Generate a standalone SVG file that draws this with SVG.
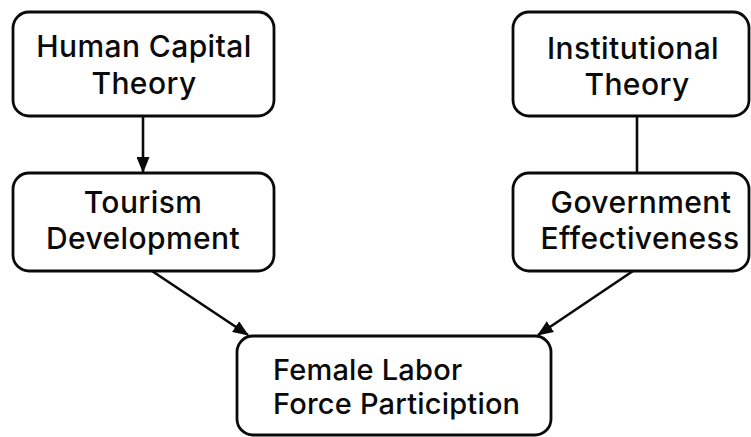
<svg xmlns="http://www.w3.org/2000/svg" width="751" height="437" viewBox="0 0 751 437">
  <defs>
    <style>
      .box { fill: #ffffff; stroke: #0a0a0a; stroke-width: 2.8; }
      .label { font-family: Inter, "Liberation Sans", Arial, sans-serif; font-size: 30px; letter-spacing: 0.4px; font-weight: 500; fill: #0a0a0a; }
      .small { font-size: 29px; letter-spacing: 0.2px; }
      .mid { text-anchor: middle; }
      .edge { stroke: #0a0a0a; stroke-width: 2.6; fill: none; }
    </style>
    <marker id="arrow" viewBox="0 0 16 13" refX="15" refY="6.5" markerWidth="16" markerHeight="13" markerUnits="userSpaceOnUse" orient="auto">
      <path d="M0,0 L16,6.5 L0,13 Z" fill="#0a0a0a"/>
    </marker>
  </defs>

  <rect width="751" height="437" fill="#ffffff"/>

  <g id="connectors">
    <line class="edge" x1="143" y1="116" x2="143" y2="172" marker-end="url(#arrow)"/>
    <line class="edge" x1="637" y1="116" x2="637" y2="173"/>
    <line class="edge" x1="152" y1="271" x2="248" y2="335" marker-end="url(#arrow)"/>
    <line class="edge" x1="633" y1="271" x2="538" y2="335" marker-end="url(#arrow)"/>
  </g>

  <g id="human-capital-theory">
    <rect class="box" x="13" y="12" width="261" height="104" rx="16"/>
    <text class="label mid" x="144" y="57">Human Capital</text>
    <text class="label mid" x="144" y="94">Theory</text>
  </g>

  <g id="tourism-development">
    <rect class="box" x="13" y="173" width="261" height="98" rx="16"/>
    <text class="label mid" x="143" y="213">Tourism</text>
    <text class="label mid" x="143" y="249">Development</text>
  </g>

  <g id="institutional-theory">
    <rect class="box" x="513" y="12" width="236" height="104" rx="16"/>
    <text class="label mid" x="633" y="59">Institutional</text>
    <text class="label mid" x="637" y="95">Theory</text>
  </g>

  <g id="government-effectiveness">
    <rect class="box" x="513" y="173" width="236" height="98" rx="16"/>
    <text class="label mid" x="641" y="213">Government</text>
    <text class="label mid" x="640" y="249">Effectiveness</text>
  </g>

  <g id="female-labor-force-participation">
    <rect class="box" x="237" y="336" width="314" height="99" rx="16"/>
    <text class="label small" x="273" y="380">Female Labor</text>
    <text class="label small" x="273" y="414">Force Particiption</text>
  </g>
</svg>
